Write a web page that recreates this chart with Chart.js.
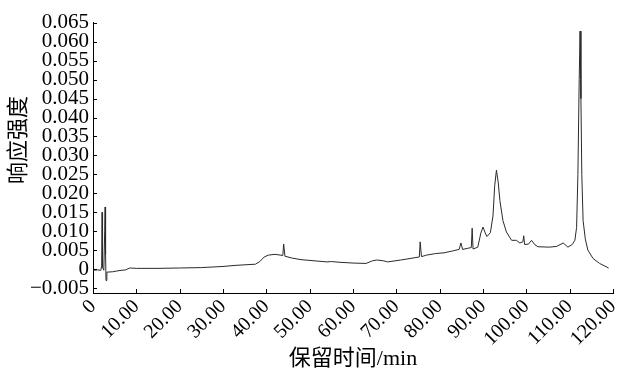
<!DOCTYPE html>
<html>
<head>
<meta charset="utf-8">
<script src="https://cdn.jsdelivr.net/npm/chart.js@4/dist/chart.umd.min.js"></script>
<style>
  html, body { margin: 0; padding: 0; background: #fff; }
  #wrap { width: 621px; height: 374px; }
</style>
</head>
<body>
<div id="wrap"><canvas id="chart"></canvas></div>
<script>
// retention time (min) and detector response
const times = [0, 1.0, 1.8, 2.0, 2.1, 2.2, 2.5, 2.7, 2.8, 2.9, 3.0, 3.2, 4.5, 6.0, 7.5, 8.5,
  10, 15, 20, 25, 30, 33, 37.5, 38.5, 39.5, 40.5, 42, 43.8, 44.0, 44.3, 46, 48, 51, 54, 55, 57,
  60, 63, 64.5, 65.5, 67, 68, 71, 75.3, 75.5, 75.8, 77, 79, 81, 83, 84.5, 84.9, 85.3, 86.5,
  87.3, 87.5, 87.7, 88.8, 89.5, 90.0, 90.5, 90.9, 91.7, 92.3, 92.7, 93.1, 93.5, 93.9, 94.6,
  95.4, 96.6, 97.7, 98.5, 99.2, 99.4, 99.6, 100.5, 101.2, 102.0, 102.7, 105.4, 107.0, 108.5,
  109.6, 110.6, 111.2, 111.6, 111.9, 112.2, 112.4, 112.6, 112.8, 113.1, 113.6, 114.2, 115.4,
  116.9, 119.0];
const response = [-0.0003, -0.0002, -0.0003, 0.0008, 0.0150, 0.0005, -0.0003, 0.0100, 0.0164,
  0.0040, -0.0030, -0.0008, -0.0007, -0.0004, -0.0002, 0.0003,
  0.0002, 0.0002, 0.0003, 0.0004, 0.0007, 0.0010, 0.0013, 0.0020, 0.0032, 0.0037, 0.0039,
  0.0036, 0.0066, 0.0034, 0.0029, 0.0025, 0.0022, 0.0019, 0.0020, 0.0018,
  0.0016, 0.0015, 0.0022, 0.0024, 0.0022, 0.0019, 0.0024, 0.0032, 0.0072, 0.0033, 0.0037,
  0.0041, 0.0043, 0.0048, 0.0052, 0.0069, 0.0052, 0.0055,
  0.0057, 0.0108, 0.0053, 0.0058, 0.0095, 0.0111, 0.0096, 0.0086, 0.0096, 0.0140, 0.0220,
  0.0261, 0.0230, 0.0181, 0.0128,
  0.0098, 0.0076, 0.0076, 0.0069, 0.0072, 0.0088, 0.0065, 0.0066, 0.0076, 0.0064, 0.0059,
  0.0058, 0.0060, 0.0069,
  0.0058, 0.0065, 0.0076, 0.0110, 0.0250, 0.0500, 0.0628, 0.0450, 0.0250, 0.0128, 0.0080,
  0.0050, 0.0028, 0.0015, 0.0003];

const yTicks = [-0.005, 0, 0.005, 0.010, 0.015, 0.020, 0.025, 0.030, 0.035, 0.040, 0.045,
  0.050, 0.055, 0.060, 0.065];
const xTicks = [0, 10, 20, 30, 40, 50, 60, 70, 80, 90, 100, 110, 120];

const xTitle = '保留时间/min';
const yTitle = '响应强度';

const serif = '"Liberation Serif", "Times New Roman", "Noto Sans CJK SC", serif';

// inward tick marks and the rotated y title
const extras = {
  id: 'extras',
  afterDraw(chart) {
    const c = chart.ctx;
    const xs = chart.scales.x, ys = chart.scales.y;
    const area = chart.chartArea;
    c.save();
    c.strokeStyle = '#000';
    c.lineWidth = 1;
    c.beginPath();
    xTicks.forEach(v => {
      const px = Math.round(xs.getPixelForValue(v)) + 0.5;
      c.moveTo(px, area.bottom);
      c.lineTo(px, area.bottom - 4);
    });
    yTicks.forEach(v => {
      const py = Math.round(ys.getPixelForValue(v)) + 0.5;
      c.moveTo(area.left, py);
      c.lineTo(area.left + 4, py);
    });
    c.stroke();

    c.translate(19, 140);
    c.rotate(-Math.PI / 2);
    c.fillStyle = '#000';
    c.font = '22px ' + serif;
    c.textAlign = 'center';
    c.textBaseline = 'middle';
    c.fillText(yTitle, 0, 0);
    c.restore();
  }
};

new Chart(document.getElementById('chart'), {
  type: 'line',
  data: {
    datasets: [{
      data: times.map((t, i) => ({ x: t, y: response[i] })),
      borderColor: '#2a2a2a',
      borderWidth: 1,
      borderJoinStyle: 'round',
      pointRadius: 0,
      tension: 0,
      fill: false
    }]
  },
  options: {
    responsive: true,
    maintainAspectRatio: false,
    animation: false,
    layout: { padding: { left: 0, right: 8, top: 22, bottom: 0 } },
    plugins: { legend: { display: false }, tooltip: { enabled: false } },
    scales: {
      x: {
        type: 'linear',
        min: 0,
        max: 120,
        afterBuildTicks: s => { s.ticks = xTicks.map(v => ({ value: v })); },
        ticks: {
          autoSkip: false,
          maxRotation: 45,
          minRotation: 45,
          padding: 2,
          color: '#000',
          font: { family: serif, size: 20 },
          callback: v => v === 0 ? '0' : v.toFixed(2)
        },
        grid: { display: false, drawTicks: false },
        border: { color: '#000', width: 1 },
        title: {
          display: true,
          text: xTitle,
          color: '#000',
          font: { family: serif, size: 22 },
          padding: { top: 0, bottom: 2 }
        },
        afterFit: s => { s.height = 81; s.paddingLeft = 0; s.paddingRight = 0; }
      },
      y: {
        min: -0.0063,
        max: 0.0652,
        afterBuildTicks: s => { s.ticks = yTicks.map(v => ({ value: v })); },
        ticks: {
          autoSkip: false,
          padding: 4,
          color: '#000',
          font: { family: serif, size: 21 },
          callback: v => Math.abs(v) < 1e-9 ? '0' : (v < 0 ? '\u2212' + (-v).toFixed(3) : v.toFixed(3))
        },
        grid: { display: false, drawTicks: false },
        border: { color: '#000', width: 1 },
        afterFit: s => { s.width = 93; s.paddingTop = 0; s.paddingBottom = 0; }
      }
    }
  },
  plugins: [extras]
});
</script>
</body>
</html>
